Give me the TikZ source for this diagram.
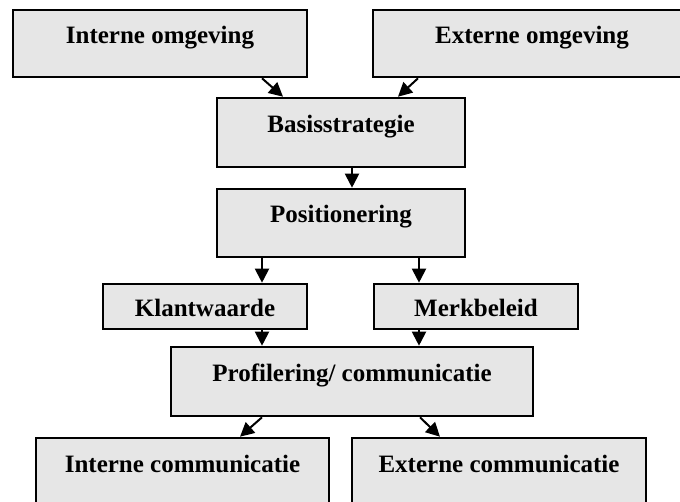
\documentclass[tikz,border=0pt]{standalone}
\usepackage{fontspec}
\setmainfont{Liberation Serif}
\usetikzlibrary{arrows.meta}
\definecolor{boxfill}{RGB}{230,230,230}
\begin{document}
\begin{tikzpicture}[x=1pt,y=-1pt,
  box/.style={draw=black, line width=2.6pt, fill=boxfill, inner sep=0pt,
    font=\fontsize{25}{28}\selectfont\bfseries,
    text height=10pt, text depth=10pt},
  lowbox/.style={box, text height=21pt, text depth=0pt},
  conn/.style={line width=2pt, -{Triangle[length=14pt,width=14pt]}}]
  \useasboundingbox (0,0) rectangle (680,502);
  \clip (0,0) rectangle (680,502);
  % top row
  \node[box, minimum width=294pt, minimum height=67pt] (io) at (160,43.5) {Interne omgeving};
  \node[box, minimum width=318pt, minimum height=67pt] (eo) at (532,43.5) {Externe omgeving};
  % strategy column
  \node[box, minimum width=248pt, minimum height=69pt] (bs) at (341,132.5) {Basisstrategie};
  \node[box, minimum width=248pt, minimum height=68pt] (pos) at (341,223) {Positionering};
  % middle pair
  \node[lowbox, minimum width=204pt, minimum height=45pt] (kw) at (205,306.5) {Klantwaarde};
  \node[lowbox, minimum width=204pt, minimum height=45pt] (mb) at (476,306.5) {Merkbeleid};
  \node[box, minimum width=362pt, minimum height=69pt] (pc) at (352,381.5) {Profilering/ communicatie};
  % bottom row
  \node[box, minimum width=293pt, minimum height=69pt] (ic) at (182.5,472.5) {Interne communicatie};
  \node[box, minimum width=294pt, minimum height=69pt] (ec) at (499,472.5) {Externe communicatie};
  % connectors
  \draw[conn] ([xshift=102pt]io.south) -- ([xshift=-58pt]bs.north);
  \draw[conn] ([xshift=-114pt]eo.south) -- ([xshift=57pt]bs.north);
  \draw[conn] ([xshift=11pt]bs.south) -- ([xshift=11pt]pos.north);
  \draw[conn] ([xshift=-79pt]pos.south) -- ([xshift=57pt]kw.north);
  \draw[conn] ([xshift=78pt]pos.south) -- ([xshift=-57pt]mb.north);
  \draw[conn] ([xshift=57pt]kw.south) -- ([xshift=-90pt]pc.north);
  \draw[conn] ([xshift=-57pt]mb.south) -- ([xshift=67pt]pc.north);
  \draw[conn] ([xshift=-90pt]pc.south) -- ([xshift=57.5pt]ic.north);
  \draw[conn] ([xshift=68pt]pc.south) -- ([xshift=-59pt]ec.north);
\end{tikzpicture}
\end{document}
